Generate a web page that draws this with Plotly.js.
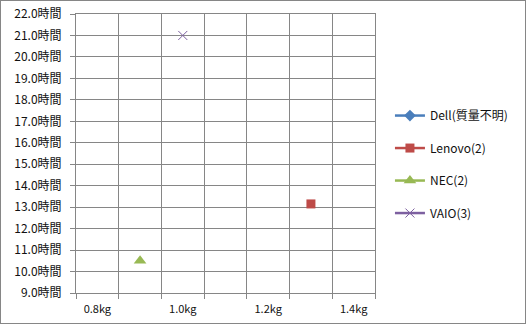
<!DOCTYPE html>
<html>
<head>
<meta charset="utf-8">
<script src="https://cdn.plot.ly/plotly-3.0.1.min.js"></script>
<style>
html,body{margin:0;padding:0;background:#fff;}
#wrap{position:relative;width:526px;height:325px;}
#chart{width:526px;height:325px;}
#frame{position:absolute;left:0;top:0;width:526px;height:324px;box-sizing:border-box;border:1px solid #868686;pointer-events:none;}
</style>
</head>
<body>
<div id="wrap"><div id="chart"></div><div id="frame"></div></div>
<script>
// Series (weight kg, battery hours)
const seriesNames = ['Dell(質量不明)', 'Lenovo(2)', 'NEC(2)', 'VAIO(3)'];
const dellX = [];      const dellY = [];
const lenovoX = [1.3]; const lenovoY = [13.15];
const necX = [0.9];    const necY = [10.5];
const vaioX = [1.0];   const vaioY = [21.0];

// Axis labels
const xTickVals = [0.8, 1.0, 1.2, 1.4];
const xTickText = ['0.8kg', '1.0kg', '1.2kg', '1.4kg'];
const yTickSuffix = '時間';

const colors = ['#4A7EBB', '#BE4B48', '#98B954', '#7D60A0'];
const symbols = ['diamond', 'square', 'triangle-up', 'x-thin'];
const sizes = [9, 9, 11, 9];
const xs = [dellX, lenovoX, necX, vaioX];
const ys = [dellY, lenovoY, necY, vaioY];

const FONT = '"Noto Sans CJK JP", "Liberation Sans", sans-serif';
const GRID = '#868686';

const traces = seriesNames.map((name, i) => ({
  type: 'scatter',
  mode: 'lines+markers',
  name: name,
  x: xs[i].length ? xs[i] : [null],
  y: ys[i].length ? ys[i] : [null],
  legendgroup: 'g' + i,
  line: {color: colors[i], width: 2.5},
  marker: {
    color: colors[i],
    symbol: symbols[i],
    size: sizes[i],
    line: {color: colors[i], width: symbols[i] === 'x-thin' ? 1 : 0}
  }
}));

const layout = {
  width: 526, height: 325,
  margin: {l: 76, r: 151, t: 14, b: 32},
  paper_bgcolor: '#fff', plot_bgcolor: '#fff',
  font: {family: FONT, size: 12, color: '#111'},
  showlegend: true,
  legend: {
    x: 1.05, xanchor: 'left', y: 0.688, yanchor: 'top',
    traceorder: 'grouped', tracegroupgap: 13.5,
    font: {family: FONT, size: 12, color: '#111'},
    itemwidth: 30, bgcolor: 'rgba(0,0,0,0)'
  },
  xaxis: {
    range: [0.75, 1.45],
    tickmode: 'array', tickvals: xTickVals, ticktext: xTickText,
    ticks: '', showgrid: false, zeroline: false,
    showline: true, mirror: true, linecolor: GRID, linewidth: 1,
    tickfont: {family: FONT, size: 11, color: '#111'},
    ticklabelstandoff: 6,
    minor: {tick0: 0.75, dtick: 0.1, showgrid: true, gridcolor: GRID, gridwidth: 1,
            ticks: 'outside', ticklen: 5, tickcolor: GRID, tickwidth: 1}
  },
  yaxis: {
    range: [9, 22], tick0: 9, dtick: 1,
    tickformat: '.1f', ticksuffix: yTickSuffix,
    ticks: 'outside', ticklen: 5, tickcolor: GRID, tickwidth: 1,
    showgrid: true, gridcolor: GRID, gridwidth: 1, zeroline: false,
    showline: true, mirror: true, linecolor: GRID, linewidth: 1,
    tickfont: {family: FONT, size: 12, color: '#111'},
    ticklabelstandoff: 6
  }
};

Plotly.newPlot('chart', traces, layout, {staticPlot: true, displayModeBar: false});
</script>
</body>
</html>
